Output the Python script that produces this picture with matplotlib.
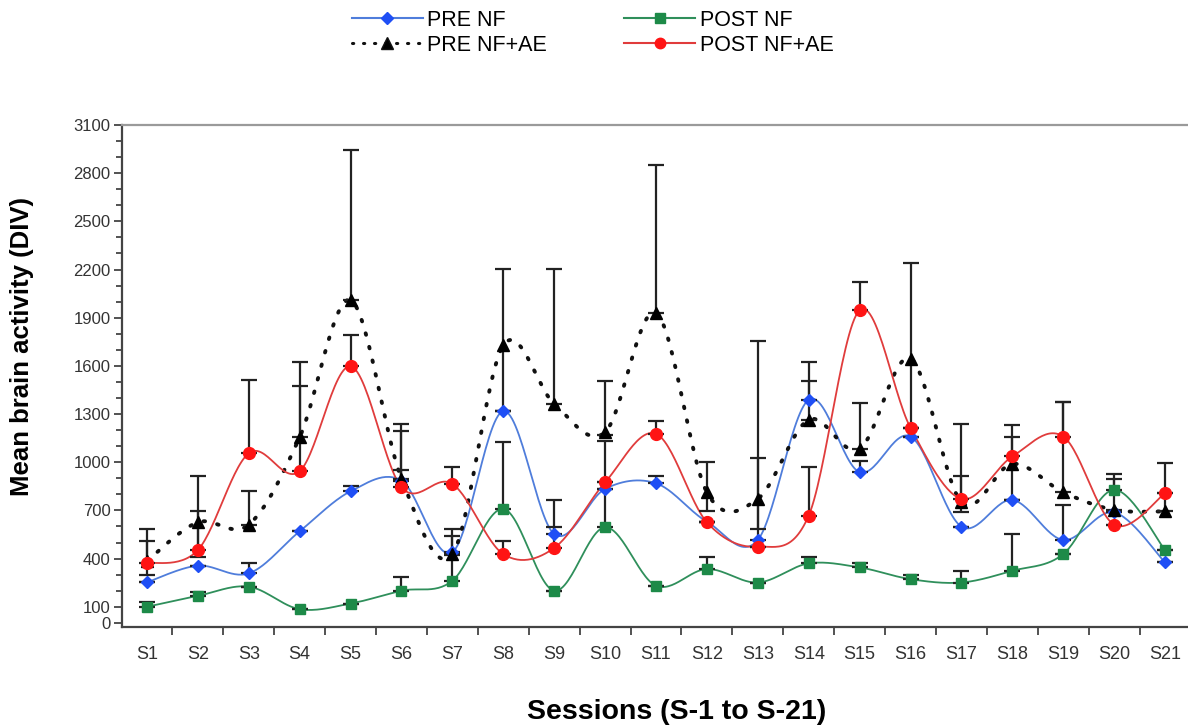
import matplotlib
matplotlib.use("Agg")

import matplotlib.pyplot as plt
from matplotlib.lines import Line2D
from matplotlib.ticker import FixedLocator, MultipleLocator
import numpy as np

plt.rcParams["font.family"] = ["Liberation Sans", "DejaVu Sans"]

# ── Data ───────────────────────────────────────────────────────────────────────
sessions = [f"S{i}" for i in range(1, 22)]

pre_nf = [252, 356, 308, 570, 819, 885, 440, 1318, 553, 834, 869,
          630, 516, 1389, 938, 1160, 599, 765, 516, 688, 376]
post_nf = [100, 168, 225, 85, 120, 200, 262, 709, 200, 595, 231,
           335, 251, 370, 345, 272, 251, 324, 428, 828, 453]
pre_nf_ae = [385, 626, 611, 1156, 2009, 898, 428, 1728, 1364, 1187, 1930,
             813, 772, 1264, 1083, 1645, 751, 990, 813, 703, 694]
post_nf_ae = [370, 453, 1056, 944, 1597, 844, 865, 428, 466, 875, 1177,
              626, 474, 668, 1946, 1214, 772, 1036, 1160, 611, 807]

# error bars (upper / lower extents)
pre_nf_err_hi = [0, 0, 62, 0, 36, 68, 103, 0, 212, 0, 48,
                 0, 509, 114, 68, 0, 0, 0, 220, 0, 0]
post_nf_err_hi = [30, 25, 0, 0, 0, 83, 160, 415, 0, 540, 0,
                  72, 0, 37, 30, 25, 73, 229, 0, 100, 0]
pre_nf_ae_err_hi = [199, 291, 208, 468, 935, 342, 157, 478, 842, 319, 921,
                    187, 983, 360, 285, 593, 489, 239, 561, 193, 300]
pre_nf_ae_err_lo = [85, 219, 0, 0, 0, 0, 0, 410, 0, 20, 0,
                    114, 189, 0, 0, 431, 63, 225, 0, 0, 0]
post_nf_ae_err_hi = [137, 241, 458, 530, 193, 349, 104, 79, 133, 0, 79,
                     0, 0, 301, 177, 0, 145, 120, 214, 0, 0]

y_major = [0, 100, 400, 700, 1000, 1300, 1600, 1900, 2200, 2500, 2800, 3100]


def catmull_rom(xs, ys, steps=30):
    """Smooth curve through every point (Catmull-Rom spline)."""
    pts = np.column_stack([xs, ys]).astype(float)
    n = len(pts)
    out = []
    t = np.linspace(0, 1, steps)[:, None]
    for i in range(n - 1):
        p0 = pts[i - 1] if i > 0 else pts[i]
        p1, p2 = pts[i], pts[i + 1]
        p3 = pts[i + 2] if i + 2 < n else pts[i + 1]
        seg = 0.5 * (2 * p1 + (-p0 + p2) * t
                     + (2 * p0 - 5 * p1 + 4 * p2 - p3) * t ** 2
                     + (-p0 + 3 * p1 - 3 * p2 + p3) * t ** 3)
        out.append(seg if i == 0 else seg[1:])
    out = np.vstack(out)
    return out[:, 0], out[:, 1]


x = np.arange(1, len(sessions) + 1)
zeros = [0] * len(sessions)

DOTTED = (0, (0.4, 3.2))

fig = plt.figure(figsize=(11.88, 7.27), dpi=100)
ax = fig.add_axes([121.5 / 1188, 1 - 627 / 727, 1069 / 1188, 502 / 727])

series = [
    # values, line color, marker, marker color, marker size, linestyle, lw
    (pre_nf, "#4f7ddb", "D", "#1f4ff5", 6.5, "-", 1.3),
    (post_nf, "#2f8f5b", "s", "#1d8a48", 7.5, "-", 1.3),
    (pre_nf_ae, "#111111", "^", "#000000", 9, DOTTED, 2.8),
    (post_nf_ae, "#e03c3c", "o", "#ff1414", 8.5, "-", 1.3),
]

for vals, lc, mk, mc, ms, ls, lw in series:
    sx, sy = catmull_rom(x, vals)
    ax.plot(sx, sy, color=lc, linestyle=ls, linewidth=lw, zorder=2,
            dash_capstyle="round")

err_sets = [
    (pre_nf, zeros, pre_nf_err_hi),
    (post_nf, zeros, post_nf_err_hi),
    (pre_nf_ae, pre_nf_ae_err_lo, pre_nf_ae_err_hi),
    (post_nf_ae, zeros, post_nf_ae_err_hi),
]
for vals, lo, hi in err_sets:
    ax.errorbar(x, vals, yerr=[lo, hi], fmt="none", ecolor="#222222",
                elinewidth=1.6, capsize=5.5, capthick=1.6, zorder=3)

for vals, lc, mk, mc, ms, ls, lw in series:
    ax.plot(x, vals, linestyle="none", marker=mk, markersize=ms,
            color=mc, markeredgecolor=mc, zorder=4)

# ── Axes formatting ───────────────────────────────────────────────────────────
ax.set_xlim(0.5, 21.5)
ax.set_ylim(-26, 3100)

ax.set_xticks(x)
ax.set_xticklabels(sessions, fontsize=13, color="#333333")
ax.xaxis.set_minor_locator(FixedLocator(np.arange(1.5, 21.5, 1)))
ax.tick_params(axis="x", which="major", length=0, pad=14)
ax.tick_params(axis="x", which="minor", length=6, width=1.3, color="#444444",
               direction="out")

ax.set_yticks(y_major)
ax.set_yticklabels([str(v) for v in y_major], fontsize=12, color="#333333")
ax.yaxis.set_minor_locator(MultipleLocator(100))
ax.tick_params(axis="y", which="major", length=6, width=1.3,
               color="#444444", pad=2)
ax.tick_params(axis="y", which="minor", length=4, width=1.3,
               color="#444444")

for side in ("left", "bottom"):
    ax.spines[side].set_color("#444444")
    ax.spines[side].set_linewidth(1.6)
ax.spines["top"].set_color("#9a9a9a")
ax.spines["top"].set_linewidth(1.6)
ax.spines["right"].set_visible(False)

fig.text(677 / 1188, 1 - 712 / 727, "Sessions (S-1 to S-21)",
         fontsize=20.5, fontweight="bold", ha="center", va="center")
fig.text(22 / 1188, 1 - 347 / 727, "Mean brain activity (DIV)",
         fontsize=18.5, fontweight="bold", ha="center", va="center",
         rotation=90)

# ── Legend ────────────────────────────────────────────────────────────────────
handles = [
    Line2D([], [], color="#4f7ddb", lw=1.5, marker="D", ms=6.5,
           markerfacecolor="#1f4ff5", markeredgecolor="#1f4ff5"),
    Line2D([], [], color="#111111", lw=2.2, linestyle=DOTTED,
           dash_capstyle="round", marker="^", ms=8,
           markerfacecolor="#000000"),
    Line2D([], [], color="#2f8f5b", lw=1.5, marker="s", ms=7,
           markerfacecolor="#1d8a48", markeredgecolor="#1d8a48"),
    Line2D([], [], color="#e03c3c", lw=1.5, marker="o", ms=7.5,
           markerfacecolor="#ff1414", markeredgecolor="#ff1414"),
]
labels = ["PRE NF", "PRE NF+AE", "POST NF", "POST NF+AE"]
fig.legend(handles, labels, ncol=2, loc="upper left",
           bbox_to_anchor=(343 / 1188, 1 - 1 / 727), frameon=False,
           fontsize=15.5, handlelength=3.3, handletextpad=0.2,
           columnspacing=3.6, labelspacing=0.2, borderaxespad=0)

fig.savefig("out.png", dpi=100)
